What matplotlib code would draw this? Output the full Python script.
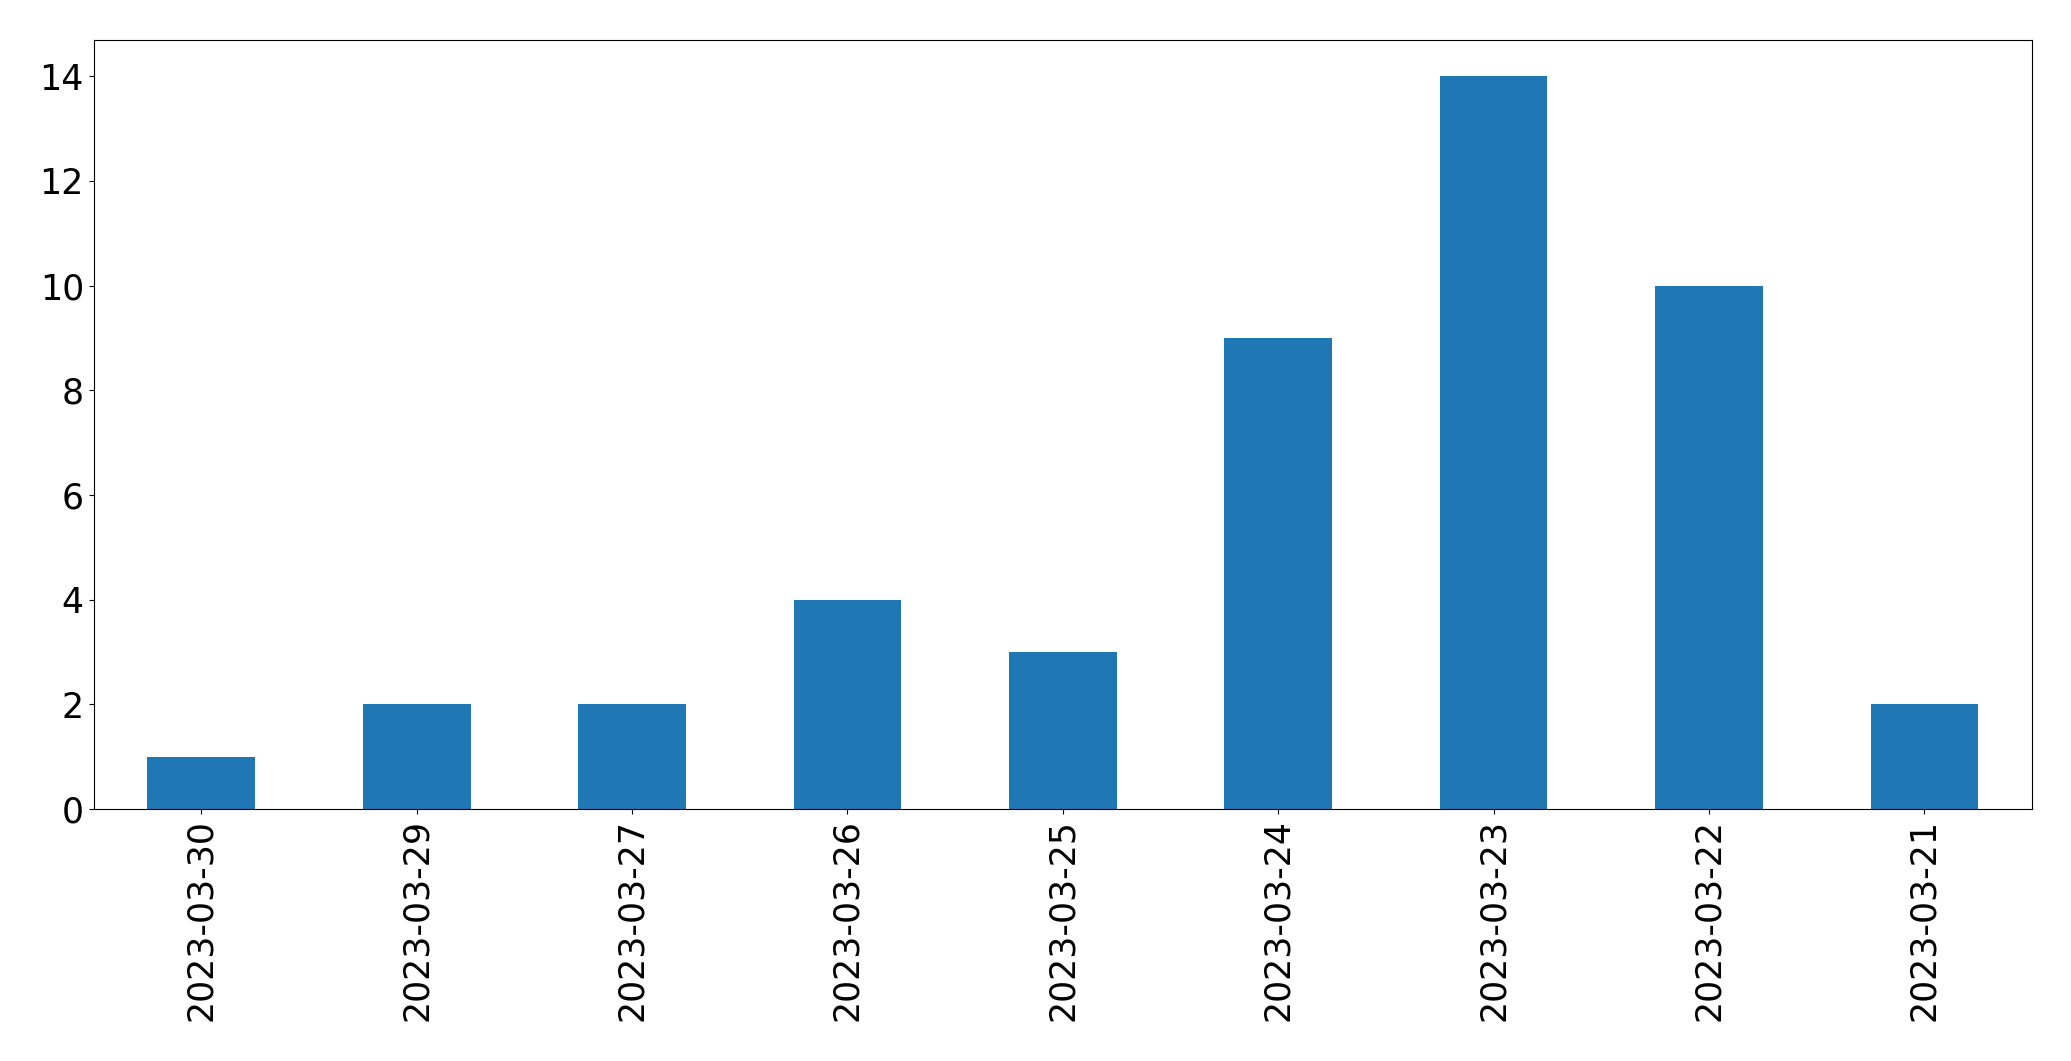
import pandas as pd
import matplotlib
matplotlib.use('Agg')
import matplotlib.pyplot as plt

dates = ['2023-03-30', '2023-03-29', '2023-03-27', '2023-03-26', '2023-03-25',
         '2023-03-24', '2023-03-23', '2023-03-22', '2023-03-21']
counts = [1, 2, 2, 4, 3, 9, 14, 10, 2]

s = pd.Series(counts, index=dates)

fig = plt.figure(figsize=(20.71, 10.61), dpi=100)
ax = s.plot(kind='bar', color='#1f77b4', fontsize=25)
plt.subplots_adjust(left=0.0452, right=0.9812, top=0.9627, bottom=0.2375)
plt.savefig('out.png')
